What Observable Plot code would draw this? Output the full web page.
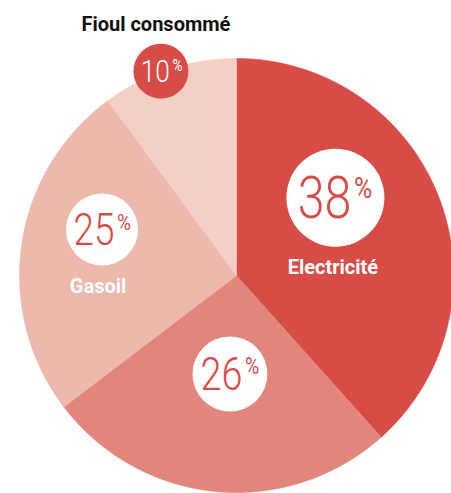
<!DOCTYPE html>
<html><head><meta charset="utf-8">
<script src="https://cdn.jsdelivr.net/npm/d3@7"></script>
<script src="https://cdn.jsdelivr.net/npm/@observablehq/plot@0.6"></script>
<style>body{margin:0;background:#fff}</style>
</head><body><div id="chart"></div>
<script>
// Data
const categories = ["Electricité", "", "Gasoil", "Fioul consommé"];
const values = [38, 26, 25, 10];
const colors = ["#d84c47", "#e2857a", "#edb9ac", "#f4cfc5"];

// Pie geometry (angles clockwise from 12 o'clock)
const pie = d3.pie().sort(null).value(d => d)(values);
const slices = [];
pie.forEach((p, i) => {
  slices.push({key: i, x: 0, y: 0});
  const n = Math.ceil((p.endAngle - p.startAngle) / 0.004);
  for (let j = 0; j <= n; j++) {
    const a = p.startAngle + (p.endAngle - p.startAngle) * j / n;
    slices.push({key: i, x: Math.sin(a), y: Math.cos(a)});
  }
  slices.push({key: i, x: 0, y: 0});
});

// Label layout (polar placement of the badges)
const layout = [
  {angle: 51.8, rf: 0.580, r: 49, size: 59, end: 16, inv: false, labelDx: -2.5, labelDy: 70, labelColor: "#fff"},
  {angle: 183.8, rf: 0.455, r: 37.5, size: 46, end: 12.5, inv: false},
  {angle: 288.9, rf: 0.655, r: 36, size: 45, end: 12.5, inv: false, labelDx: -4, labelDy: 57, labelColor: "#fff"},
  {angle: 339.7, rf: 1.004, r: 27.5, size: 32, end: 9, inv: true, labelDx: -5, labelDy: -47, labelColor: "#111"}
];

const numFont = "Roboto, sans-serif";
const labelFont = "Roboto, 'Noto Sans', sans-serif";

const marks = [
  Plot.line(slices, {x: "x", y: "y", z: "key", fill: "key", stroke: "key", strokeWidth: 0.6, curve: "linear"})
];

values.forEach((v, i) => {
  const L = layout[i];
  const a = L.angle * Math.PI / 180;
  const d = {x: Math.sin(a) * L.rf, y: Math.cos(a) * L.rf, v: String(v), label: categories[i]};
  const circleFill = L.inv ? colors[0] : "#fff";
  const textFill = L.inv ? "#fff" : colors[0];
  marks.push(Plot.dot([d], {x: "x", y: "y", r: L.r, fill: circleFill, stroke: null}));
  marks.push(Plot.text([d], {x: "x", y: "y", text: "v", textAnchor: "end", dx: L.end, dy: 0.02 * L.size,
    fontSize: L.size, fontFamily: numFont, fontWeight: 300, fill: textFill, ariaDescription: "pct-number"}));
  marks.push(Plot.text([d], {x: "x", y: "y", text: () => "%", textAnchor: "start", dx: L.end + 2.5, dy: -0.15 * L.size,
    fontSize: L.size * 0.5, fontFamily: numFont, fontWeight: 400, fill: textFill, ariaDescription: "pct-sign"}));
  if (d.label) {
    marks.push(Plot.text([d], {x: "x", y: "y", text: "label", dx: L.labelDx, dy: L.labelDy, fontSize: 20,
      fontFamily: labelFont, fontWeight: 700, fill: L.labelColor}));
  }
});

const chart = Plot.plot({
  width: 451,
  height: 493,
  margin: 0,
  x: {domain: [-1, 1], range: [19, 453], axis: null},
  y: {domain: [-1, 1], range: [492, 58], axis: null},
  color: {type: "ordinal", domain: d3.range(values.length), range: colors},
  marks
});
document.getElementById("chart").appendChild(chart);

// condense the numerals horizontally (the original uses a condensed face)
function condense(desc, k) {
  chart.querySelectorAll(`g[aria-description="${desc}"] text`).forEach(t => {
    const w = t.getComputedTextLength();
    if (w > 0) {
      t.setAttribute("textLength", (w * k).toFixed(2));
      t.setAttribute("lengthAdjust", "spacingAndGlyphs");
    }
  });
}
condense("pct-number", 0.82);
condense("pct-sign", 0.85);
</script>
</body></html>
